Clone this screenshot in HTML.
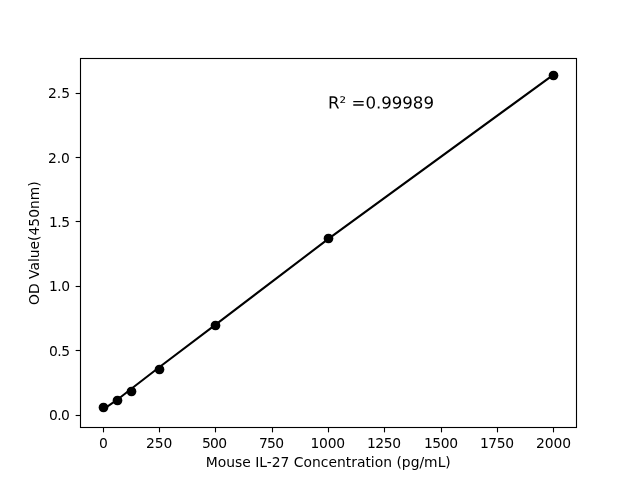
<!DOCTYPE html>
<html lang="en"><head><meta charset="utf-8"><title>Mouse IL-27 standard curve</title>
<style>html,body{margin:0;padding:0;background:#fff}svg{display:block}text{font-family:"DejaVu Sans","Liberation Sans",sans-serif;fill:#000}</style></head><body>
<svg width="640" height="480" viewBox="0 0 640 480">
<rect width="640" height="480" fill="#fff"/>
<polyline points="102.55,409.86 116.64,400.21 130.73,389.21 158.91,367.53 215.27,324.82 328.00,239.13 553.45,74.71" fill="none" stroke="#000" stroke-width="2.083" stroke-linecap="square" stroke-linejoin="round"/>
<circle cx="103.50" cy="407.50" r="4.86" fill="#000"/>
<circle cx="117.50" cy="400.50" r="4.86" fill="#000"/>
<circle cx="131.50" cy="391.50" r="4.86" fill="#000"/>
<circle cx="159.50" cy="369.50" r="4.86" fill="#000"/>
<circle cx="215.50" cy="325.50" r="4.86" fill="#000"/>
<circle cx="328.50" cy="238.50" r="4.86" fill="#000"/>
<circle cx="553.50" cy="75.50" r="4.86" fill="#000"/>
<line x1="103.5" y1="427.5" x2="103.5" y2="432.36" stroke="#000" stroke-width="1.111"/>
<text x="103.33" y="448.00" font-size="13.889" text-anchor="middle" letter-spacing="0.0">0</text>
<line x1="159.5" y1="427.5" x2="159.5" y2="432.36" stroke="#000" stroke-width="1.111"/>
<text x="159.19" y="448.00" font-size="13.889" text-anchor="middle" letter-spacing="0.0">250</text>
<line x1="215.5" y1="427.5" x2="215.5" y2="432.36" stroke="#000" stroke-width="1.111"/>
<text x="214.09" y="448.00" font-size="13.889" text-anchor="middle" letter-spacing="-0.7">500</text>
<line x1="272.5" y1="427.5" x2="272.5" y2="432.36" stroke="#000" stroke-width="1.111"/>
<text x="271.19" y="448.00" font-size="13.889" text-anchor="middle" letter-spacing="-0.7">750</text>
<line x1="328.5" y1="427.5" x2="328.5" y2="432.36" stroke="#000" stroke-width="1.111"/>
<text x="327.71" y="448.00" font-size="13.889" text-anchor="middle" letter-spacing="-0.2">1000</text>
<line x1="384.5" y1="427.5" x2="384.5" y2="432.36" stroke="#000" stroke-width="1.111"/>
<text x="383.75" y="448.00" font-size="13.889" text-anchor="middle" letter-spacing="-0.4">1250</text>
<line x1="441.5" y1="427.5" x2="441.5" y2="432.36" stroke="#000" stroke-width="1.111"/>
<text x="440.81" y="448.00" font-size="13.889" text-anchor="middle" letter-spacing="-0.4">1500</text>
<line x1="497.5" y1="427.5" x2="497.5" y2="432.36" stroke="#000" stroke-width="1.111"/>
<text x="496.75" y="448.00" font-size="13.889" text-anchor="middle" letter-spacing="-0.4">1750</text>
<line x1="553.5" y1="427.5" x2="553.5" y2="432.36" stroke="#000" stroke-width="1.111"/>
<text x="553.51" y="448.00" font-size="13.889" text-anchor="middle" letter-spacing="-0.1">2000</text>
<line x1="80.5" y1="415.5" x2="75.64" y2="415.5" stroke="#000" stroke-width="1.111"/>
<text x="69.46" y="420.00" font-size="13.889" text-anchor="end" letter-spacing="-0.5">0.0</text>
<line x1="80.5" y1="350.5" x2="75.64" y2="350.5" stroke="#000" stroke-width="1.111"/>
<text x="69.50" y="356.00" font-size="13.889" text-anchor="end" letter-spacing="-0.5">0.5</text>
<line x1="80.5" y1="286.5" x2="75.64" y2="286.5" stroke="#000" stroke-width="1.111"/>
<text x="69.81" y="291.00" font-size="13.889" text-anchor="end" letter-spacing="-0.4">1.0</text>
<line x1="80.5" y1="221.5" x2="75.64" y2="221.5" stroke="#000" stroke-width="1.111"/>
<text x="69.48" y="227.00" font-size="13.889" text-anchor="end" letter-spacing="-0.5">1.5</text>
<line x1="80.5" y1="157.5" x2="75.64" y2="157.5" stroke="#000" stroke-width="1.111"/>
<text x="69.77" y="163.00" font-size="13.889" text-anchor="end" letter-spacing="-0.1">2.0</text>
<line x1="80.5" y1="93.5" x2="75.64" y2="93.5" stroke="#000" stroke-width="1.111"/>
<text x="70.03" y="98.00" font-size="13.889" text-anchor="end" letter-spacing="0.0">2.5</text>
<rect x="80.5" y="58.5" width="496.0" height="369.0" fill="none" stroke="#000" stroke-width="1.111" stroke-linejoin="miter"/>
<text x="328.28" y="467.00" font-size="13.889" text-anchor="middle">Mouse IL-27 Concentration (pg/mL)</text>
<text x="38.76" y="243.15" font-size="13.889" text-anchor="middle" transform="rotate(-90 38.76 243.15)">OD Value(450nm)</text>
<text x="328.10" y="108.42" font-size="16.667" letter-spacing="-0.05" transform="rotate(-0.03 378.00 108.42)">R² =0.99989</text>
</svg></body></html>
